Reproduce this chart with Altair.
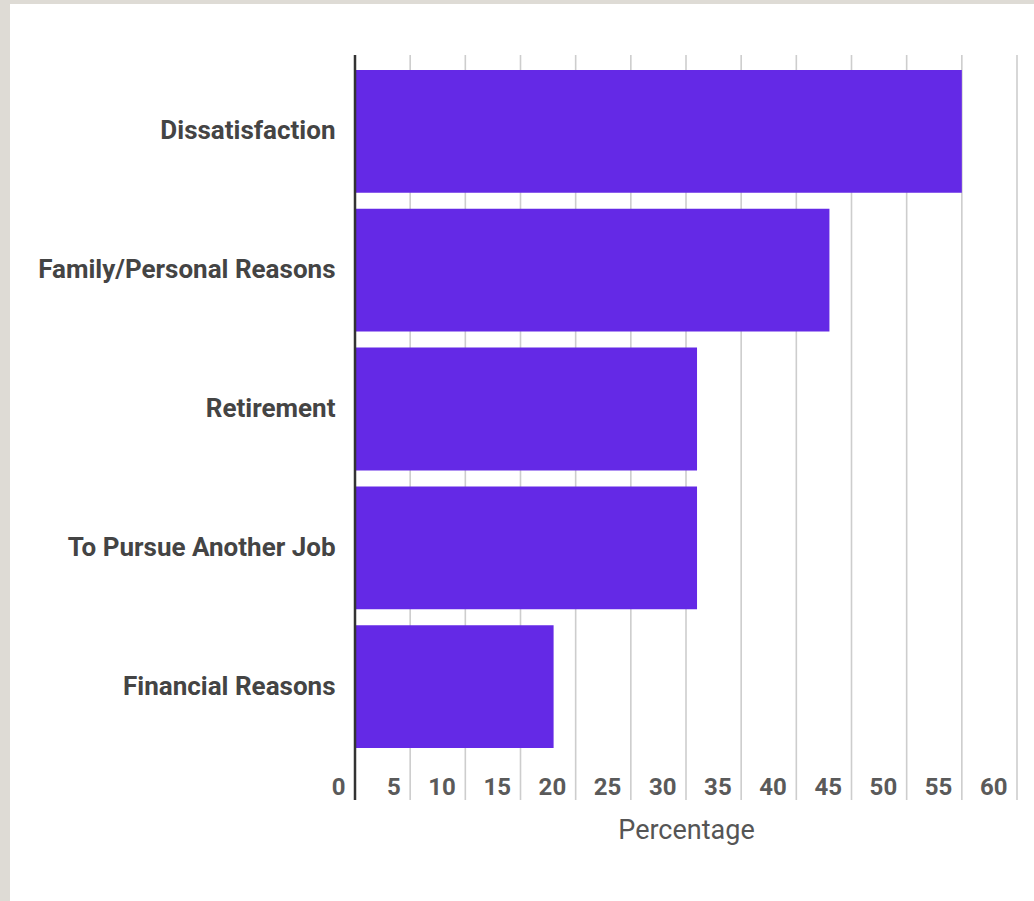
import altair as alt
import pandas as pd

reasons = ["Dissatisfaction", "Family/Personal Reasons", "Retirement",
           "To Pursue Another Job", "Financial Reasons"]
percentages = [55, 43, 31, 31, 18]
tick_values = [0, 5, 10, 15, 20, 25, 30, 35, 40, 45, 50, 55, 60]
grid_values = [5, 10, 15, 20, 25, 30, 35, 40, 45, 50, 55, 60]

df = pd.DataFrame({"Reason": reasons, "Percentage": percentages})
grid_df = pd.DataFrame({"Percentage": grid_values})

FONT = "Roboto"
xscale = alt.Scale(domain=[0, 60], nice=False, zero=True)
x_axis = alt.Axis(values=tick_values, title="Percentage", grid=False,
                  domain=False, ticks=False, tickSize=0,
                  labelAlign="right", labelOffset=-10, labelBaseline="middle",
                  labelPadding=-13, labelFont=FONT, labelFontSize=24,
                  labelFontWeight="bold", labelColor="#5a5a5a",
                  labelFlush=False,
                  titleFont=FONT, titleFontSize=27, titleFontWeight="normal",
                  titleColor="#555555", titleY=30, titleBaseline="middle",
                  zindex=1)

panel = alt.Chart(alt.Data(values=[{}])).mark_rect(color="white").encode(
    x=alt.value(-345), x2=alt.value(679), y=alt.value(-51), y2=alt.value(846)
)

grid = alt.Chart(grid_df).mark_rule(color="#cdcdcd", strokeWidth=1.6).encode(
    x=alt.X("Percentage:Q", scale=xscale, axis=x_axis)
)

zero_line = alt.Chart(alt.Data(values=[{}])).mark_rule(
    color="#333333", strokeWidth=2.5
).encode(x=alt.datum(0, scale=xscale))

bars = alt.Chart(df).mark_bar(color="#6429E6").encode(
    y=alt.Y("Reason:N", sort=reasons,
            scale=alt.Scale(range=[15, 693], paddingInner=0.115, paddingOuter=0),
            axis=alt.Axis(title=None, ticks=False, tickSize=0, labelPadding=20,
                          labelFont=FONT, labelFontSize=26, labelFontWeight="bold",
                          labelColor="#444444", labelLimit=500,
                          domain=False, grid=False, zindex=1)),
    x=alt.X("Percentage:Q", scale=xscale, axis=x_axis)
)

chart = alt.layer(panel, grid, bars, zero_line).properties(
    width=662, height=745,
    background="#dedbd5",
    autosize=alt.AutoSizeParams(type="none"),
    padding={"left": 355, "top": 55, "right": 17, "bottom": 101},
).configure_view(stroke=None)

chart.save("out.html", embed_options={"renderer": "svg", "actions": False})
